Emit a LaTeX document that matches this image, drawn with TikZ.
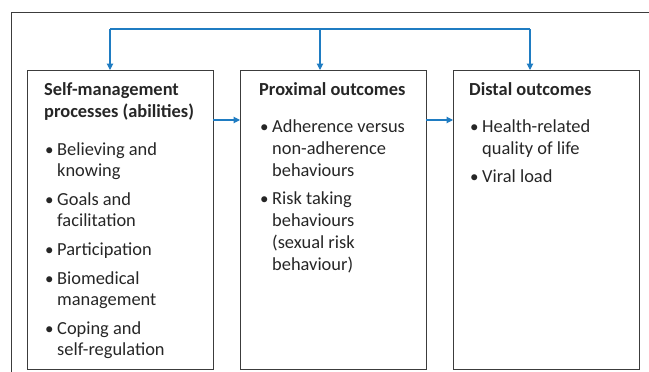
\documentclass[tikz,border=0pt]{standalone}
\usepackage{fontspec}
\setmainfont{Carlito}
\usetikzlibrary{arrows.meta}
\definecolor{arrblue}{HTML}{1F7CC2}
\definecolor{framegray}{HTML}{3C3C3C}
\tikzset{
  boxnode/.style={draw=framegray, line width=1.2pt, minimum width=186pt, minimum height=299pt, inner sep=0pt, anchor=north west},
  conn/.style={draw=arrblue, line width=1.1pt, -{Triangle[length=6.5pt,width=6.5pt]}},
  ttl/.style={anchor=base west, inner sep=0pt, font=\fontsize{18.4}{21.5}\selectfont\bfseries, text=black!85},
  txt/.style={anchor=base west, inner sep=0pt, font=\fontsize{18.4}{21.5}\selectfont, text=black!85},
  bul/.style={anchor=base west, inner sep=0pt, font=\fontsize{17}{21.5}\selectfont, text=black!85}
}
\begin{document}
\begin{tikzpicture}[x=1pt,y=-1pt]
\useasboundingbox (0,0) rectangle (649,372);
% outer frame (partial)
\draw[framegray, line width=1pt] (11.5,372) -- (11.5,12.7) -- (649,12.7);
% boxes
\node[boxnode] (b1) at (27,70) {};
\node[boxnode] (b2) at (240,70) {};
\node[boxnode] (b3) at (453,70) {};
% top connector
\coordinate (t1) at (110,29);
\coordinate (t2) at (320,29);
\coordinate (t3) at (530,29);
\draw[draw=arrblue, line width=1.1pt] (t1) -- (t3);
\draw[conn] (t1) -- (t1 |- b1.north);
\draw[conn] (t2) -- (t2 |- b2.north);
\draw[conn] (t3) -- (t3 |- b3.north);
% horizontal connectors
\coordinate (h1) at (213,120);
\coordinate (h2) at (426,120);
\draw[conn] (h1) -- (h1 -| b2.west);
\draw[conn] (h2) -- (h2 -| b3.west);
% box 1 text
\node[ttl] (t1a) at (44,95) {Self-management};
\node[ttl] (t1b) at (44,117) {processes (abilities)};
\node[bul] (u11) at (45,155) {•};
\node[txt] (x11) at (57,155) {Believing and};
\node[txt] (x12) at (57,176.5) {knowing};
\node[bul] (u12) at (45,205) {•};
\node[txt] (x13) at (57,205) {Goals and};
\node[txt] (x14) at (57,226.5) {facilitation};
\node[bul] (u13) at (45,255) {•};
\node[txt] (x15) at (57,255) {Participation};
\node[bul] (u14) at (45,284) {•};
\node[txt] (x16) at (57,284) {Biomedical};
\node[txt] (x17) at (57,305.5) {management};
\node[bul] (u15) at (45,334) {•};
\node[txt] (x18) at (57,334) {Coping and};
\node[txt] (x19) at (57,355.5) {self-regulation};
% box 2 text
\node[ttl] (t2a) at (259,95) {Proximal outcomes};
\node[bul] (u21) at (260,132) {•};
\node[txt] (x21) at (272,132) {Adherence versus};
\node[txt] (x22) at (272,154) {non-adherence};
\node[txt] (x23) at (272,176) {behaviours};
\node[bul] (u22) at (260,204) {•};
\node[txt] (x24) at (272,204) {Risk taking};
\node[txt] (x25) at (272,226) {behaviours};
\node[txt] (x26) at (272,248) {(sexual risk};
\node[txt] (x27) at (272,270) {behaviour)};
% box 3 text
\node[ttl] (t3a) at (469,95) {Distal outcomes};
\node[bul] (u31) at (470,132) {•};
\node[txt] (x31) at (482,132) {Health-related};
\node[txt] (x32) at (482,154) {quality of life};
\node[bul] (u32) at (470,182) {•};
\node[txt] (x33) at (482,182) {Viral load};
\end{tikzpicture}
\end{document}
